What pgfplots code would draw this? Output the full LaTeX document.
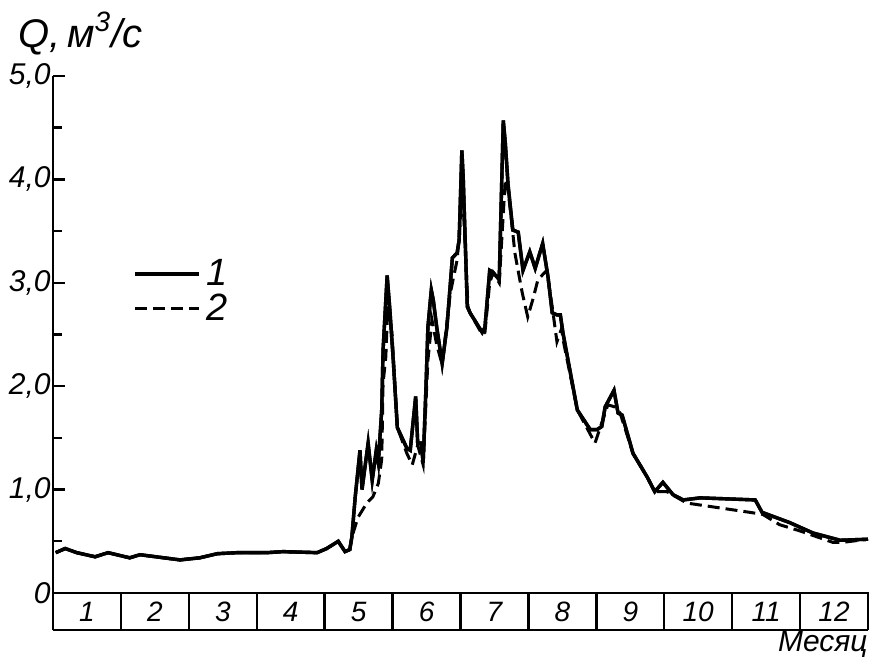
\documentclass[border=0pt]{standalone}
\usepackage{fontspec}
\setmainfont{Liberation Sans}
\usepackage{pgfplots}
\usepackage{pgfplotstable}
\pgfplotsset{compat=1.18}

\pgfplotstableread{
x y
0.04 0.39
0.18 0.43
0.35 0.39
0.62 0.35
0.81 0.39
1.13 0.34
1.28 0.37
1.87 0.32
2.16 0.34
2.42 0.38
2.71 0.39
3.15 0.39
3.39 0.40
3.89 0.39
4.03 0.43
4.20 0.50
4.30 0.40
4.37 0.42
4.40 0.54
4.45 0.93
4.52 1.38
4.55 1.00
4.64 1.45
4.70 1.09
4.76 1.38
4.79 1.26
4.84 1.77
4.86 2.35
4.92 3.07
4.96 2.74
5.01 2.25
5.07 1.60
5.21 1.40
5.26 1.38
5.34 1.90
5.37 1.45
5.42 1.45
5.45 1.26
5.49 1.96
5.52 2.57
5.57 2.93
5.60 2.83
5.65 2.57
5.73 2.22
5.80 2.57
5.88 3.24
5.95 3.29
5.98 3.41
6.02 4.28
6.04 4.02
6.10 2.77
6.14 2.71
6.32 2.52
6.36 2.57
6.43 3.12
6.48 3.10
6.57 3.03
6.63 4.57
6.66 4.35
6.70 3.95
6.77 3.51
6.85 3.49
6.92 3.12
7.02 3.30
7.10 3.14
7.21 3.38
7.29 3.05
7.35 2.71
7.42 2.69
7.47 2.69
7.51 2.51
7.72 1.77
7.91 1.58
8.01 1.58
8.08 1.61
8.13 1.80
8.26 1.96
8.32 1.74
8.38 1.72
8.54 1.35
8.75 1.12
8.86 0.98
8.98 1.07
9.13 0.95
9.28 0.90
9.53 0.92
10.34 0.90
10.44 0.78
10.85 0.68
11.19 0.58
11.59 0.51
12.00 0.52
}\seriesA

\pgfplotstableread{
x y
0.04 0.39
0.18 0.43
0.35 0.39
0.62 0.35
0.81 0.39
1.13 0.34
1.28 0.37
1.87 0.32
2.16 0.34
2.42 0.38
2.71 0.39
3.15 0.39
3.39 0.40
3.89 0.39
4.03 0.43
4.20 0.50
4.30 0.40
4.37 0.42
4.40 0.54
4.49 0.73
4.62 0.87
4.71 0.93
4.79 1.06
4.84 1.29
4.86 2.03
4.90 2.28
4.93 2.77
4.99 2.52
5.07 1.60
5.21 1.35
5.29 1.24
5.37 1.43
5.45 1.24
5.52 2.25
5.58 2.64
5.65 2.40
5.73 2.21
5.85 2.90
5.95 3.22
5.99 3.55
6.03 3.90
6.11 2.77
6.14 2.71
6.32 2.50
6.36 2.52
6.43 3.00
6.48 3.10
6.57 3.00
6.66 4.00
6.70 3.90
6.76 3.55
6.80 3.29
6.91 2.90
6.99 2.67
7.07 2.85
7.14 3.03
7.27 3.12
7.35 2.77
7.42 2.43
7.49 2.56
7.51 2.45
7.72 1.77
7.98 1.45
8.17 1.82
8.27 1.80
8.35 1.74
8.54 1.35
8.75 1.12
8.86 0.98
9.04 0.98
9.33 0.87
10.26 0.78
10.45 0.76
10.70 0.66
11.00 0.60
11.48 0.49
11.63 0.49
12.00 0.52
}\seriesB

\begin{document}
\begin{tikzpicture}
\begin{axis}[
  at={(0,0)}, anchor=south west,
  scale only axis, width=407.5pt, height=277pt,
  xmin=0, xmax=12, ymin=-0.358, ymax=5,
  axis lines=left,
  axis line style={-, line width=1.4pt},
  xtick=\empty,
  ytick={0,1,2,3,4,5},
  yticklabels={0,{1,0},{2,0},{3,0},{4,0},{5,0}},
  minor ytick={0.5,1.5,2.5,3.5,4.5},
  tick align=inside,
  major tick length=6pt, minor tick length=4.5pt,
  tick style={line width=1.2pt, black},
  yticklabel style={font=\fontsize{15}{15}\selectfont\itshape, inner sep=1pt},
  clip=false,
  reverse legend,
  legend cell align=left,
  legend image code/.code={\draw[#1] (0pt,0pt) -- (32pt,0pt);},
  legend style={draw=none, fill=none, inner sep=0pt, row sep=2.5pt,
    nodes={inner xsep=3pt, inner ysep=0pt},
    font=\fontsize{19}{19}\selectfont\itshape,
    at={(axis cs:1.18,3.23)}, anchor=north west},
]
\addplot[black, line width=1.7pt, forget plot] table[x=x,y=y] {\seriesA};
\addplot[black, line width=1.5pt, dash pattern=on 6pt off 3pt] table[x=x,y=y] {\seriesB};
\addplot[black, line width=1.7pt] table[x=x,y=y] {\seriesA};
\legend{2,1}

\draw[line width=1.4pt] (axis cs:0,0) -- (axis cs:12,0) -- (axis cs:12,-0.358);
\draw[line width=1.2pt] (axis cs:1,0) -- (axis cs:1,-0.358);
\draw[line width=1.2pt] (axis cs:2,0) -- (axis cs:2,-0.358);
\draw[line width=1.2pt] (axis cs:3,0) -- (axis cs:3,-0.358);
\draw[line width=1.2pt] (axis cs:4,0) -- (axis cs:4,-0.358);
\draw[line width=1.2pt] (axis cs:5,0) -- (axis cs:5,-0.358);
\draw[line width=1.2pt] (axis cs:6,0) -- (axis cs:6,-0.358);
\draw[line width=1.2pt] (axis cs:7,0) -- (axis cs:7,-0.358);
\draw[line width=1.2pt] (axis cs:8,0) -- (axis cs:8,-0.358);
\draw[line width=1.2pt] (axis cs:9,0) -- (axis cs:9,-0.358);
\draw[line width=1.2pt] (axis cs:10,0) -- (axis cs:10,-0.358);
\draw[line width=1.2pt] (axis cs:11,0) -- (axis cs:11,-0.358);

\begin{scope}[every node/.style={font=\fontsize{14}{14}\selectfont\itshape}]
\node at (axis cs:0.5,-0.18) {1};
\node at (axis cs:1.5,-0.18) {2};
\node at (axis cs:2.5,-0.18) {3};
\node at (axis cs:3.5,-0.18) {4};
\node at (axis cs:4.5,-0.18) {5};
\node at (axis cs:5.5,-0.18) {6};
\node at (axis cs:6.5,-0.18) {7};
\node at (axis cs:7.5,-0.18) {8};
\node at (axis cs:8.5,-0.18) {9};
\node at (axis cs:9.5,-0.18) {10};
\node at (axis cs:10.5,-0.18) {11};
\node at (axis cs:11.5,-0.18) {12};
\end{scope}

\node[anchor=base west, inner sep=0pt, font=\fontsize{20}{20}\selectfont\itshape]
  at (axis cs:-0.515,5.28) {Q,\,м\textsuperscript{3}/с};
\node[anchor=base east, inner sep=0pt, font=\fontsize{15}{15}\selectfont\itshape]
  at (axis cs:12.0,-0.57) {Месяц};
\end{axis}
\pgfresetboundingbox
\path[use as bounding box] (-26.5pt,-15pt) rectangle (410.5pt,315pt);
\end{tikzpicture}
\end{document}
